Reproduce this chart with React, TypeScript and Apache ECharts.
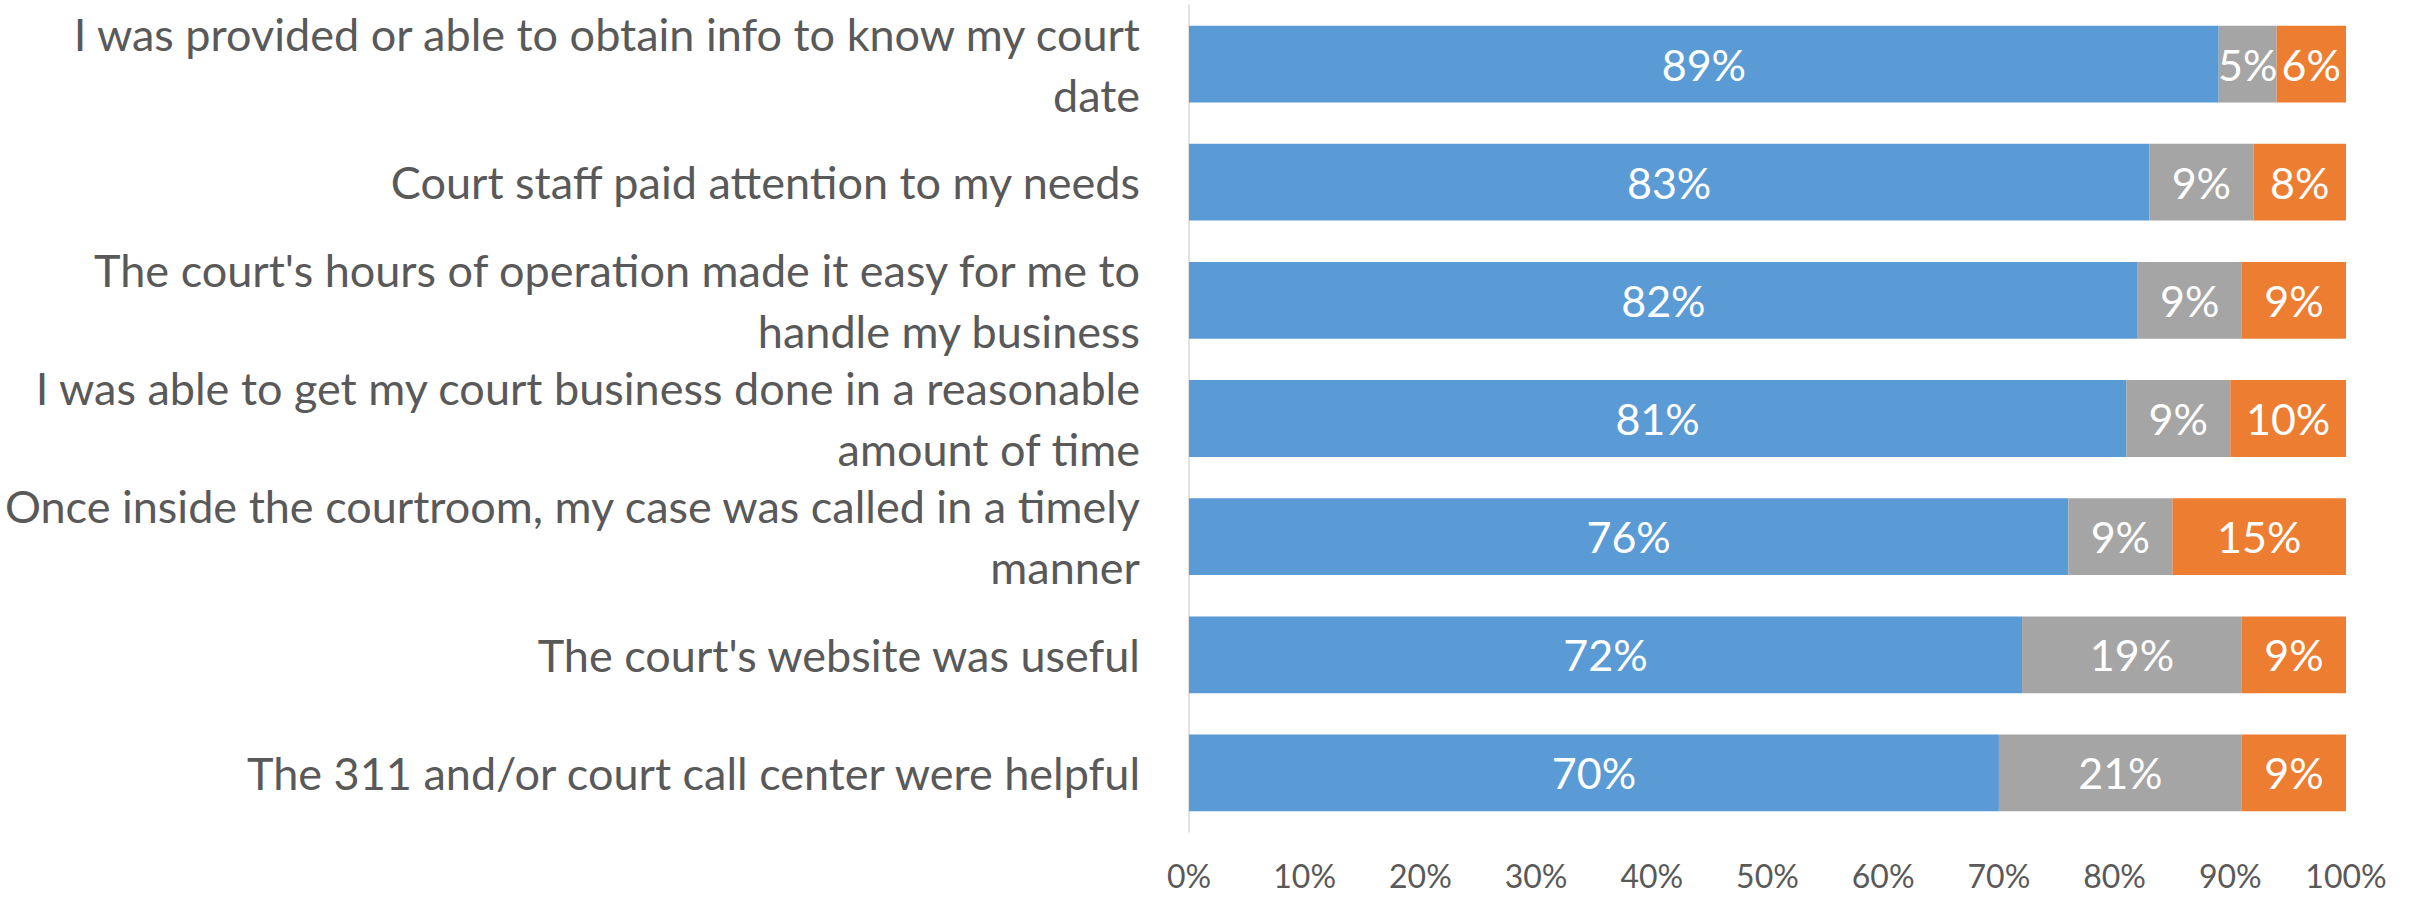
import React, { useEffect, useRef } from "react";
import * as echarts from "echarts";

const categories: string[] = [
  "I was provided or able to obtain info to know my court\ndate",
  "Court staff paid attention to my needs",
  "The court's hours of operation made it easy for me to\nhandle my business",
  "I was able to get my court business done in a reasonable\namount of time",
  "Once inside the courtroom, my case was called in a timely\nmanner",
  "The court's website was useful",
  "The 311 and/or court call center were helpful",
];

const agreeValues: number[] = [89, 83, 82, 81, 76, 72, 70];
const neutralValues: number[] = [5, 9, 9, 9, 9, 19, 21];
const disagreeValues: number[] = [6, 8, 9, 10, 15, 9, 9];

const seriesNames: string[] = ["Agree", "Neutral", "Disagree"];
const seriesColors: string[] = ["#5B9BD5", "#A5A5A5", "#ED7D31"];

const FONT = "Lato, 'Open Sans', sans-serif";

export default function App() {
  const ref = useRef<HTMLDivElement>(null);

  useEffect(() => {
    if (!ref.current) return;
    const chart = echarts.init(ref.current, undefined, { renderer: "svg" });
    const allValues = [agreeValues, neutralValues, disagreeValues];
    chart.setOption({
      animation: false,
      textStyle: { fontFamily: FONT },
      grid: {
        left: 1189,
        right: 67,
        top: 5,
        bottom: 65,
        containLabel: false,
        outerBoundsMode: "none",
      },
      xAxis: {
        type: "value",
        min: 0,
        max: 100,
        interval: 10,
        axisLine: { show: false },
        axisTick: { show: false },
        splitLine: { show: false },
        axisLabel: {
          formatter: (v: number) => `${v}%`,
          color: "#595959",
          fontSize: 32,
          lineHeight: 32,
          fontFamily: FONT,
          margin: 27,
        },
      },
      yAxis: {
        type: "category",
        data: categories,
        inverse: true,
        axisLine: { show: true, lineStyle: { color: "#D9D9D9", width: 1.5 } },
        axisTick: { show: false },
        axisLabel: {
          color: "#595959",
          fontSize: 45,
          lineHeight: 61,
          fontFamily: FONT,
          margin: 49,
          align: "right",
        },
      },
      series: seriesNames.map((name, i) => ({
        name,
        type: "bar",
        stack: "total",
        barCategoryGap: "35%",
        data: allValues[i],
        itemStyle: { color: seriesColors[i] },
        label: {
          show: true,
          position: "inside",
          color: "#FFFFFF",
          fontSize: 43,
          fontFamily: FONT,
          formatter: (p: any) => `${p.value}%`,
        },
      })),
    });
    return () => chart.dispose();
  }, []);

  return (
    <div
      ref={ref}
      style={{ position: "absolute", left: 0, top: 0, width: 2413, height: 897 }}
    />
  );
}
